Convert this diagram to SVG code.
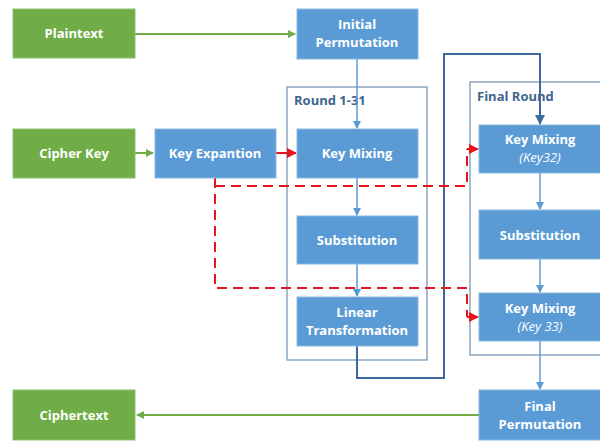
<svg xmlns="http://www.w3.org/2000/svg" width="600" height="441" viewBox="0 0 600 441">
<defs>
<style>
.g{fill:#70AD47;stroke:#8FBF6F;stroke-width:1}
.b{fill:#5B9BD5;stroke:#8BB8E2;stroke-width:1}
.t{font-family:"Open Sans","Liberation Sans",sans-serif;font-size:13px;font-weight:bold;fill:#fff;text-anchor:middle}
.i{font-family:"Open Sans","Liberation Sans",sans-serif;font-size:13px;font-style:italic;fill:#fff;text-anchor:middle}
.frame{fill:none;stroke:#6F8FB0;stroke-width:1.2}
.lbl{font-family:"Open Sans","Liberation Sans",sans-serif;font-size:13px;font-weight:bold;fill:#41658F}
.ga{fill:none;stroke:#70AD47;stroke-width:2}
.ba{fill:none;stroke:#5B9BD5;stroke-width:1.5}
.da{fill:none;stroke:#3C6A9C;stroke-width:2}
.ra{fill:none;stroke:#E8141B;stroke-width:2}
.rd{fill:none;stroke:#E8141B;stroke-width:2;stroke-dasharray:10,6}
</style>
<marker id="mg" markerWidth="8" markerHeight="8" refX="7" refY="4" orient="auto" markerUnits="userSpaceOnUse"><path d="M0,0L8,4L0,8z" fill="#70AD47"/></marker>
<marker id="mb" markerWidth="8" markerHeight="8" refX="7" refY="4" orient="auto" markerUnits="userSpaceOnUse"><path d="M0,0L8,4L0,8z" fill="#5B9BD5"/></marker>
<marker id="md" markerWidth="10" markerHeight="10" refX="9" refY="5" orient="auto" markerUnits="userSpaceOnUse"><path d="M0,0L10,5L0,10z" fill="#3C6A9C"/></marker>
<marker id="mr" markerWidth="10" markerHeight="10" refX="9" refY="5" orient="auto" markerUnits="userSpaceOnUse"><path d="M0,0L10,5L0,10z" fill="#E8141B"/></marker>
</defs>

<g id="frames">
<rect class="frame" x="287" y="87" width="140" height="273"/>
<text class="lbl" x="294" y="105">Round 1-31</text>
<rect class="frame" x="470" y="82" width="140" height="273"/>
<text class="lbl" x="477" y="101">Final Round</text>
</g>

<g id="connectors">
<path class="ga" d="M135,34H295" marker-end="url(#mg)"/>
<path class="ga" d="M135,153H153" marker-end="url(#mg)"/>
<path class="ga" d="M479,415H137" marker-end="url(#mg)"/>
<path class="ba" d="M357,59V128" marker-end="url(#mb)"/>
<path class="ba" d="M357,178V215" marker-end="url(#mb)"/>
<path class="ba" d="M357,264V296" marker-end="url(#mb)"/>
<path class="ba" d="M540,173V209" marker-end="url(#mb)"/>
<path class="ba" d="M540,259V292" marker-end="url(#mb)"/>
<path class="ba" d="M540,341V389" marker-end="url(#mb)"/>
<path class="da" d="M357,346V378H444V54H540V124" marker-end="url(#md)"/>
<path class="ra" d="M276,153H296" marker-end="url(#mr)"/>
<path class="rd" d="M215,178V288H467V317"/>
<path class="rd" d="M215,186H467V149"/>
<path class="ra" d="M467,149H478" marker-end="url(#mr)"/>
<path class="ra" d="M467,317H478" marker-end="url(#mr)"/>
</g>

<g id="plaintext"><rect class="g" x="13" y="9" width="122" height="49"/><text class="t" x="74" y="38">Plaintext</text></g>
<g id="cipherkey"><rect class="g" x="13" y="129" width="122" height="49"/><text class="t" x="74" y="158">Cipher Key</text></g>
<g id="ciphertext"><rect class="g" x="13" y="390" width="122" height="50"/><text class="t" x="74" y="420">Ciphertext</text></g>
<g id="keyexp"><rect class="b" x="155" y="129" width="121" height="49"/><text class="t" x="215" y="158">Key Expantion</text></g>
<g id="initperm"><rect class="b" x="297" y="9" width="121" height="50"/><text class="t" x="357" y="29">Initial</text><text class="t" x="357" y="47">Permutation</text></g>
<g id="keymix1"><rect class="b" x="297" y="129" width="121" height="49"/><text class="t" x="357" y="158">Key Mixing</text></g>
<g id="subst1"><rect class="b" x="297" y="216" width="121" height="48"/><text class="t" x="357" y="245">Substitution</text></g>
<g id="linear"><rect class="b" x="297" y="297" width="121" height="49"/><text class="t" x="357" y="317">Linear</text><text class="t" x="357" y="335">Transformation</text></g>
<g id="keymix32"><rect class="b" x="479" y="125" width="122" height="48"/><text class="t" x="540" y="144">Key Mixing</text><text class="i" x="540" y="162">(Key32)</text></g>
<g id="subst2"><rect class="b" x="479" y="210" width="122" height="49"/><text class="t" x="540" y="240">Substitution</text></g>
<g id="keymix33"><rect class="b" x="479" y="293" width="122" height="48"/><text class="t" x="540" y="313">Key Mixing</text><text class="i" x="540" y="331">(Key 33)</text></g>
<g id="finalperm"><rect class="b" x="479" y="390" width="122" height="50"/><text class="t" x="540" y="411">Final</text><text class="t" x="540" y="429">Permutation</text></g>
</svg>
